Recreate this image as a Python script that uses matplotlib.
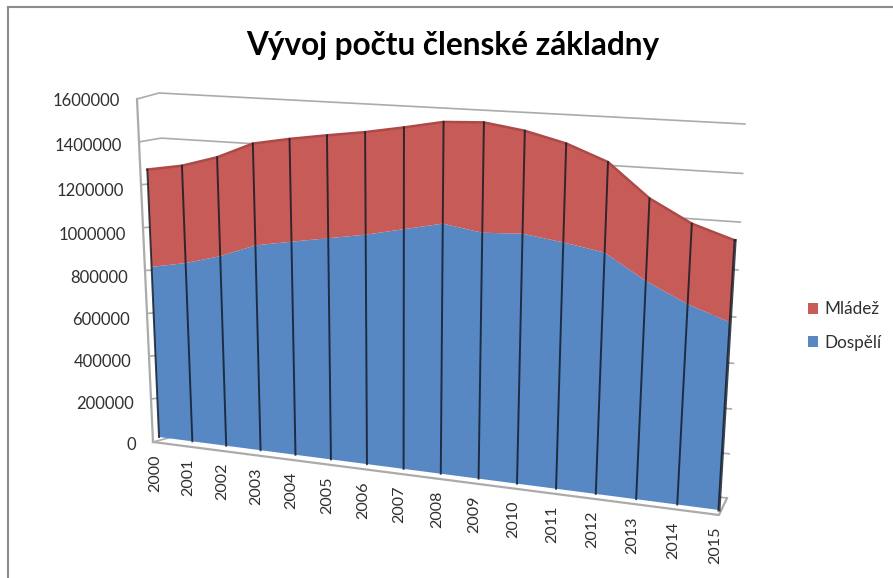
import numpy as np
import matplotlib
matplotlib.use('Agg')
import matplotlib.pyplot as plt

# Data
years = [str(y) for y in range(2000, 2016)]
dospeli = [818000, 850000, 896000, 959000, 989000, 1018000, 1047000, 1084000,
           1121000, 1095000, 1104000, 1081000, 1052000, 948000, 867000, 807000]
mladez = [446000, 442000, 444000, 451000, 451000, 447000, 441000, 433000,
          428000, 461000, 427000, 408000, 372000, 340000, 331000, 336000]
value_ticks = [0, 200000, 400000, 600000, 800000, 1000000, 1200000, 1400000, 1600000]
title = 'Vývoj počtu členské základny'

VMAX = 1600000.0
BLUE = '#5788c3'
RED = '#c75b58'
GRID = '#ababab'

plt.rcParams['font.family'] = ['Lato', 'DejaVu Sans']


# Homography from the unit square to a quad given in pixels (bl, br, tl, tr)
def make_projection(bl, br, tl, tr):
    src = [(0, 0), (1, 0), (0, 1), (1, 1)]
    dst = [bl, br, tl, tr]
    A, b = [], []
    for (u, v), (x, y) in zip(src, dst):
        A.append([u, v, 1, 0, 0, 0, -u * x, -v * x])
        A.append([0, 0, 0, u, v, 1, -u * y, -v * y])
        b += [x, y]
    h = np.append(np.linalg.solve(np.array(A, float), np.array(b, float)), 1).reshape(3, 3)

    def project(i, value):
        u = np.asarray(i, float) / (len(years) - 1)
        v = np.asarray(value, float) / VMAX
        w = h[2, 0] * u + h[2, 1] * v + h[2, 2]
        return (h[0, 0] * u + h[0, 1] * v + h[0, 2]) / w, (h[1, 0] * u + h[1, 1] * v + h[1, 2]) / w
    return project


# front plane of the areas and the back wall of the 3D box
front = make_projection((159, 437), (719, 510), (144, 94), (742, 125))
back = make_projection((176, 436), (727, 498), (159, 93), (745, 124))

fig = plt.figure(figsize=(8.93, 5.78), dpi=100)
ax = fig.add_axes([0, 0, 1, 1])
ax.set_xlim(0, 893)
ax.set_ylim(578, 0)
ax.axis('off')

# chart border
ax.plot([8, 8], [578, 7], color='#8c8c8c', lw=1.5)
ax.plot([8, 893], [7, 7], color='#8c8c8c', lw=1.5)

# walls and gridlines
outer_x0, outer_y0, outer_x1, outer_y1 = 153, 442, 137, 99
last = len(years) - 1
for v in value_ticks:
    f = v / VMAX
    ox = outer_x0 + (outer_x1 - outer_x0) * f
    oy = outer_y0 + (outer_y1 - outer_y0) * f
    bx0, by0 = back(0, v)
    bx1, by1 = back(last, v)
    ax.plot([ox, bx0, bx1], [oy, by0, by1], color=GRID, lw=1.2, zorder=1)
    # labels follow the slanted axis and bow down a little in the middle
    ax.text(ox - 17, oy + 2.5 + 5 * np.sin(np.pi * f), f'{v}', ha='right', va='center',
            fontsize=12, color='#303030')
ax.plot([outer_x0, outer_x1], [outer_y0, outer_y1], color=GRID, lw=1.6, zorder=1)
ax.plot([outer_x0, 719, 727], [outer_y0, 515, 498], color=GRID, lw=1.6, zorder=1)

# stacked areas
idx = np.arange(len(years))
dospeli = np.array(dospeli)
total = dospeli + np.array(mladez)
x0, y0 = front(idx, np.zeros(len(idx)))
x1, y1 = front(idx, dospeli)
x2, y2 = front(idx, total)
blue_area = ax.fill(np.r_[x0, x1[::-1]], np.r_[y0, y1[::-1]], color=BLUE, lw=0, zorder=2, label='Dospělí')[0]
red_area = ax.fill(np.r_[x1, x2[::-1]], np.r_[y1, y2[::-1]], color=RED, lw=0, zorder=2, label='Mládež')[0]
ax.plot(x2, y2, color='#ad4a48', lw=1.8, zorder=3)

# dark seams between the segments
for i in idx:
    lw = 2.2 if i == last else 1.4
    ax.plot([x0[i], x2[i]], [y0[i], y2[i]], color='#0e1622', lw=lw, alpha=0.8, zorder=4)

# year labels
for i in idx:
    ax.text(x0[i] - 4, y0[i] + 17, years[i], rotation=90, ha='center', va='top', fontsize=11.6, color='#303030')

ax.text(453, 45, title, ha='center', va='center', fontsize=22.7, fontweight='bold', color='#000000')

ax.legend(handles=[red_area, blue_area], loc='center left', bbox_to_anchor=(808, 326),
          bbox_transform=ax.transData, frameon=False, fontsize=12.3, labelcolor='#303030',
          handlelength=0.6, handleheight=0.6, handletextpad=0.37, labelspacing=1.0,
          borderpad=0, borderaxespad=0)

fig.savefig('out.png', dpi=100)
